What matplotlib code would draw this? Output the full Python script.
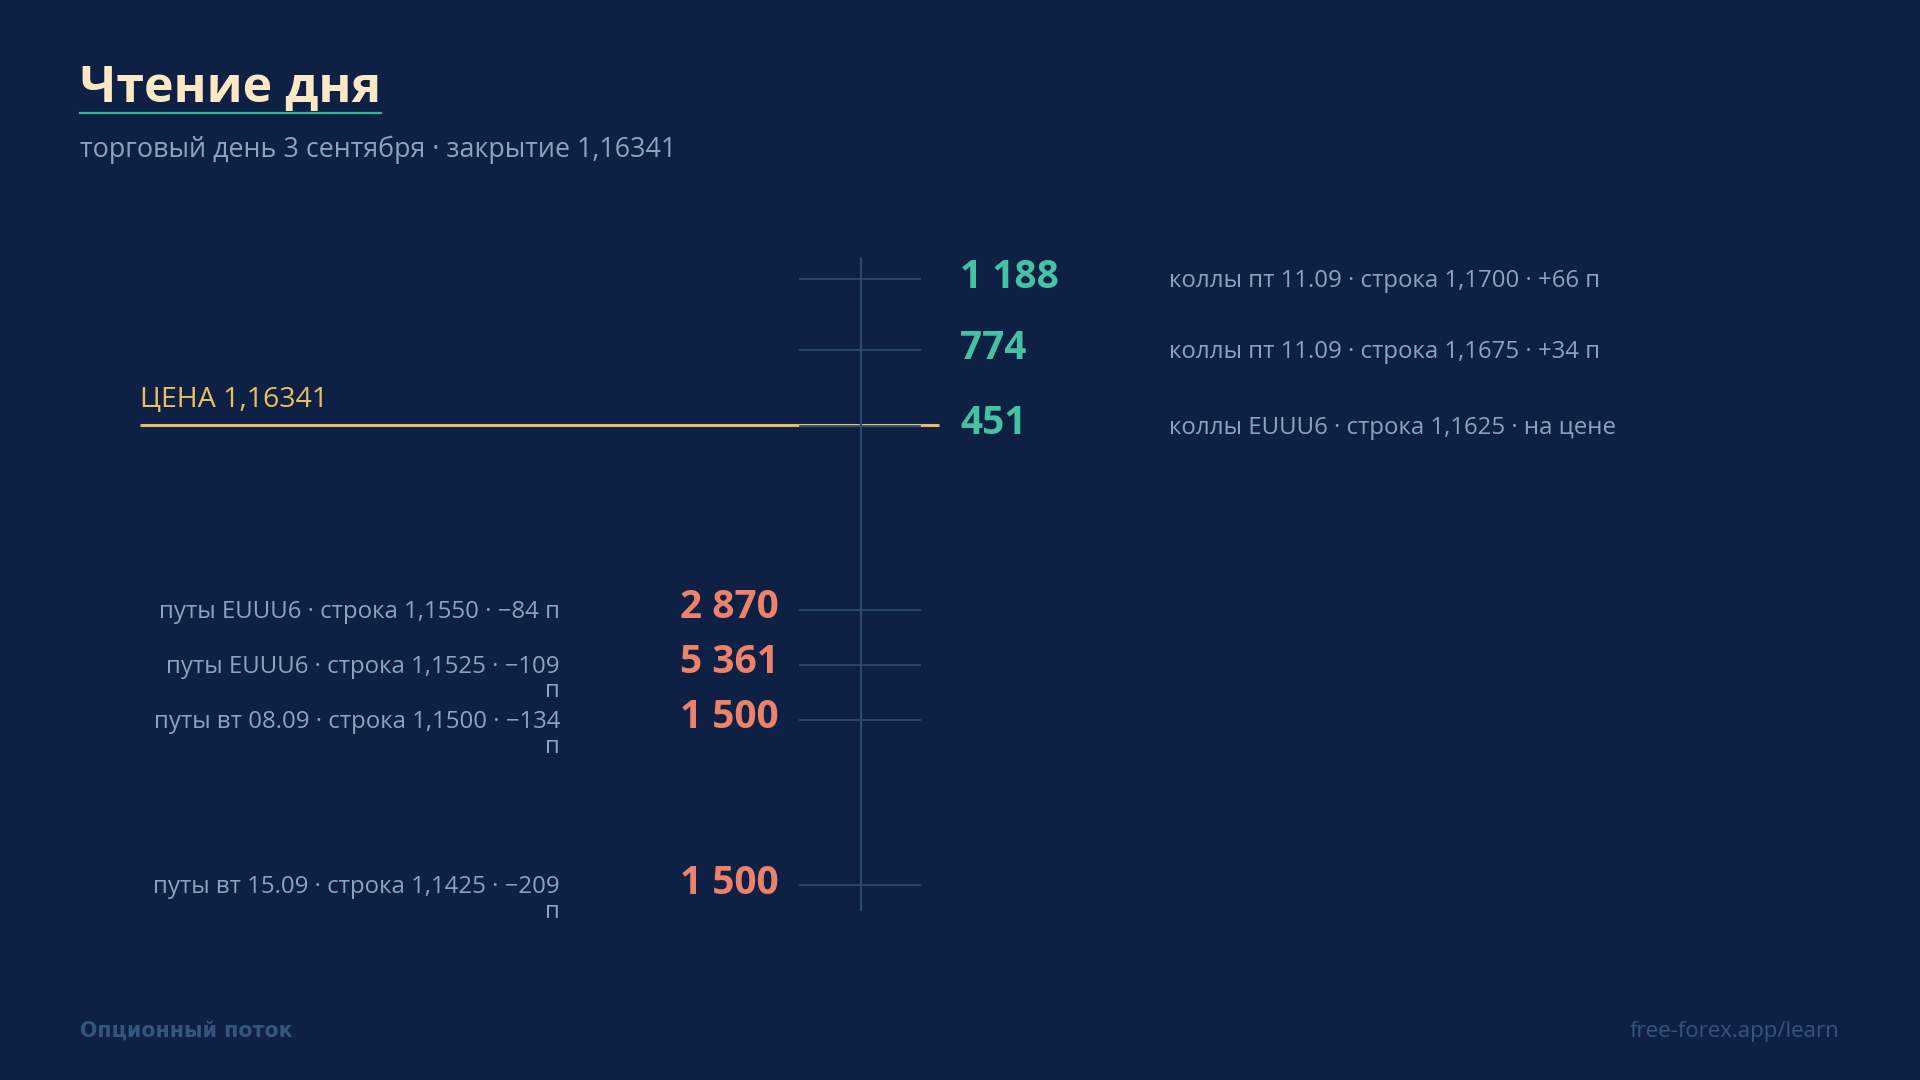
import matplotlib
matplotlib.use("Agg")
import matplotlib.pyplot as plt
from matplotlib.lines import Line2D

# ---------------- data ----------------
close_price = 1.16341
title = "Чтение дня"
subtitle = "торговый день 3 сентября · закрытие 1,16341"
price_label = "ЦЕНА 1,16341"

call_strikes = [1.1700, 1.1675, 1.1625]
call_levels = [1.1700, 1.16678, 1.16335]       # where each row is drawn on the ladder
call_volumes = ["1 188", "774", "451"]
call_notes = ["коллы пт 11.09 · строка 1,1700 · +66 п",
              "коллы пт 11.09 · строка 1,1675 · +34 п",
              "коллы EUUU6 · строка 1,1625 · на цене"]

put_strikes = [1.1550, 1.1525, 1.1500, 1.1425]
put_levels = [1.1550, 1.1525, 1.1500, 1.1425]
put_volumes = ["2 870", "5 361", "1 500", "1 500"]
put_notes = ["путы EUUU6 · строка 1,1550 · −84 п",
             "путы EUUU6 · строка 1,1525 · −109\nп",
             "путы вт 08.09 · строка 1,1500 · −134\nп",
             "путы вт 15.09 · строка 1,1425 · −209\nп"]

footer_left = "Опционный поток"
footer_right = "free-forex.app/learn"

# ---------------- style ----------------
BG = "#0e2144"
CREAM = "#fde8c6"
TEAL_LINE = "#2fb59b"
TEAL = "#45c1a3"
SALMON = "#ec826b"
MUTED = "#8ea2bf"
YELLOW = "#e6c063"
AXIS = "#2b4a6b"
FOOT = "#34557d"
FONT = ["Open Sans", "DejaVu Sans"]

W, H = 1920, 1080
fig = plt.figure(figsize=(19.2, 10.8), dpi=100, facecolor=BG)
ax = fig.add_axes([0, 0, 1, 1], facecolor=BG)
ax.set_xlim(0, W)
ax.set_ylim(1.13367, 1.18267)
ax.axis("off")

def fx(px):
    return px / W

def fy(py):
    return 1 - py / H

# title + underline
fig.text(fx(80), fy(101), title, family=FONT, fontweight="bold", fontsize=36,
         color=CREAM, va="baseline", ha="left")
fig.add_artist(Line2D([fx(80), fx(381)], [fy(112.5), fy(112.5)], color=TEAL_LINE,
                      lw=1.6, transform=fig.transFigure))
fig.text(fx(80), fy(150), subtitle, family=FONT, fontsize=19.4, color=MUTED,
         va="center", ha="left")

# price line
ax.plot([140, 939], [close_price, close_price], color=YELLOW, lw=2.2,
        solid_capstyle="butt", zorder=2)
ax.annotate(price_label, (140, close_price), xytext=(0, 17.5), textcoords="offset points",
            family=FONT, fontsize=20.5, color=YELLOW, ha="left", va="center")

# ladder axis
all_levels = call_levels + put_levels
ax.plot([861, 861], [max(all_levels) + 0.0009, min(all_levels) - 0.0011],
        color=AXIS, lw=1.6, zorder=3)

# calls
for lvl, vol, note in zip(call_levels, call_volumes, call_notes):
    ax.plot([800, 920], [lvl, lvl], color=AXIS, lw=1.3, zorder=3)
    ax.annotate(vol, (960, lvl), xytext=(0, 1.5), textcoords="offset points",
                family=FONT, fontweight="bold", fontsize=28, color=TEAL,
                ha="left", va="center")
    ax.annotate(note, (1169, lvl), xytext=(0, -1.5), textcoords="offset points",
                family=FONT, fontsize=17.3, color=MUTED, ha="left", va="center")

# puts
for lvl, vol, note in zip(put_levels, put_volumes, put_notes):
    ax.plot([800, 920], [lvl, lvl], color=AXIS, lw=1.3, zorder=3)
    ax.annotate(vol, (779, lvl), xytext=(0, 1.5), textcoords="offset points",
                family=FONT, fontweight="bold", fontsize=28, color=SALMON,
                ha="right", va="center")
    for i, line in enumerate(note.split("\n")):
        ax.annotate(line, (560, lvl), xytext=(0, -1.5 - 17.6 * i), textcoords="offset points",
                    family=FONT, fontsize=17.3, color=MUTED, ha="right", va="center")

# footer
fig.text(fx(80), fy(1031), footer_left, family=["DejaVu Sans"], fontweight="bold",
         fontsize=14.8, color=FOOT, ha="left", va="center")
fig.text(fx(1839), fy(1031), footer_right, family=FONT, fontsize=16, color=FOOT,
         ha="right", va="center")

fig.savefig("out.png", dpi=100, facecolor=BG)
